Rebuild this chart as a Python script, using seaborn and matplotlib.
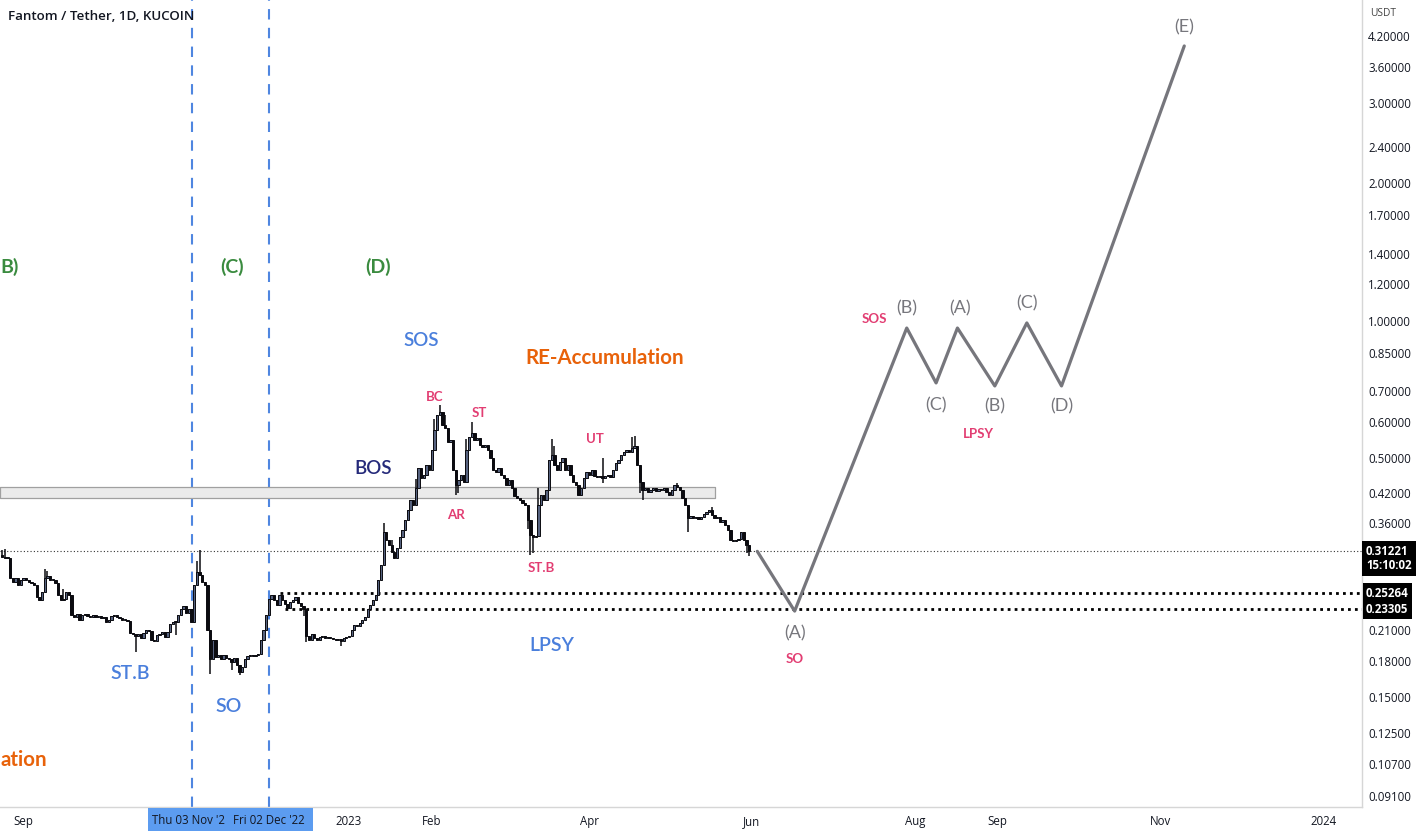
import numpy as np
import pandas as pd
import matplotlib
matplotlib.use("Agg")
import matplotlib.pyplot as plt
import matplotlib.dates as mdates
import matplotlib.transforms as mtransforms
from matplotlib.patches import Rectangle
from matplotlib.ticker import NullLocator
import seaborn as sns

# ---------------- data ----------------
candle_start = "2022-08-24"
first_open = 0.306
closes = [
    0.304, 0.302, 0.302, 0.273, 0.268, 0.273, 0.264, 0.270, 0.273, 0.270,
    0.268, 0.266, 0.264, 0.248, 0.244, 0.254, 0.273, 0.276, 0.270, 0.270,
    0.266, 0.251, 0.244, 0.246, 0.254, 0.251, 0.227, 0.224, 0.228, 0.221,
    0.226, 0.228, 0.225, 0.224, 0.226, 0.224, 0.225, 0.223, 0.224, 0.219,
    0.221, 0.225, 0.227, 0.224, 0.223, 0.221, 0.221, 0.220, 0.207, 0.206,
    0.204, 0.206, 0.202, 0.207, 0.210, 0.209, 0.200, 0.199, 0.205, 0.206,
    0.208, 0.203, 0.208, 0.216, 0.219, 0.219, 0.227, 0.233, 0.237, 0.229,
    0.234, 0.219, 0.264, 0.281, 0.277, 0.268, 0.264, 0.210, 0.181, 0.200,
    0.183, 0.185, 0.181, 0.185, 0.182, 0.181, 0.179, 0.182, 0.176, 0.170,
    0.174, 0.181, 0.184, 0.185, 0.184, 0.185, 0.186, 0.200, 0.210, 0.227,
    0.246, 0.251, 0.244, 0.238, 0.251, 0.244, 0.240, 0.235, 0.242, 0.244,
    0.248, 0.241, 0.237, 0.233, 0.204, 0.200, 0.206, 0.202, 0.200, 0.203,
    0.204, 0.202, 0.203, 0.202, 0.201, 0.200, 0.201, 0.199, 0.202, 0.203,
    0.204, 0.210, 0.215, 0.214, 0.217, 0.221, 0.224, 0.233, 0.238, 0.244,
    0.251, 0.270, 0.292, 0.344, 0.331, 0.323, 0.311, 0.302, 0.318, 0.336,
    0.348, 0.366, 0.385, 0.405, 0.395, 0.430, 0.475, 0.452, 0.459, 0.483,
    0.471, 0.520, 0.576, 0.621, 0.631, 0.590, 0.581, 0.542, 0.547, 0.471,
    0.436, 0.447, 0.459, 0.443, 0.520, 0.556, 0.567, 0.547, 0.553, 0.534,
    0.528, 0.534, 0.520, 0.500, 0.471, 0.466, 0.475, 0.459, 0.452, 0.436,
    0.447, 0.430, 0.413, 0.409, 0.405, 0.399, 0.395, 0.366, 0.339, 0.336,
    0.338, 0.395, 0.415, 0.405, 0.425, 0.495, 0.507, 0.483, 0.471, 0.490,
    0.500, 0.471, 0.483, 0.459, 0.443, 0.436, 0.415, 0.430, 0.452, 0.466,
    0.459, 0.471, 0.457, 0.454, 0.457, 0.452, 0.457, 0.459, 0.454, 0.471,
    0.488, 0.495, 0.507, 0.515, 0.520, 0.515, 0.526, 0.531, 0.483, 0.443,
    0.425, 0.430, 0.421, 0.425, 0.430, 0.423, 0.428, 0.425, 0.430, 0.421,
    0.415, 0.425, 0.436, 0.432, 0.425, 0.409, 0.395, 0.369, 0.373, 0.369,
    0.371, 0.368, 0.371, 0.377, 0.381, 0.385, 0.375, 0.369, 0.371, 0.362,
    0.366, 0.357, 0.348, 0.331, 0.329, 0.331, 0.333, 0.344, 0.331, 0.323,
    0.3122,
]
wick_high = {0: 0.315, 1: 0.316, 16: 0.285, 17: 0.283, 23: 0.258, 73: 0.298,
             74: 0.314, 143: 0.360, 146: 0.330, 155: 0.450, 162: 0.610,
             164: 0.653, 166: 0.620, 174: 0.550, 176: 0.600, 184: 0.490,
             201: 0.430, 206: 0.550, 207: 0.530, 225: 0.500, 236: 0.555,
             237: 0.560, 253: 0.440, 266: 0.390, 277: 0.345}
wick_low = {50: 0.188, 65: 0.205, 78: 0.168, 86: 0.172, 89: 0.167, 98: 0.200,
            113: 0.225, 114: 0.198, 127: 0.194, 170: 0.415, 171: 0.420,
            197: 0.350, 198: 0.307, 199: 0.310, 225: 0.440, 239: 0.420,
            240: 0.405, 257: 0.345, 279: 0.310, 280: 0.305}

current_price = 0.31221
current_time = "15:10:02"
level_high = 0.25264
level_low = 0.23305
zone_bottom, zone_top = 0.409, 0.432
zone_end = "2023-05-18"

proj_dates = ["2023-06-03", "2023-06-17", "2023-07-29", "2023-08-09", "2023-08-17",
              "2023-08-31", "2023-09-12", "2023-09-25", "2023-11-10"]
proj_prices = [0.3122, 0.231, 0.963, 0.730, 0.963, 0.719, 0.988, 0.719, 3.994]

vlines_dates = ["2022-11-03", "2022-12-02"]

ytick_values = [4.2, 3.6, 3.0, 2.4, 2.0, 1.7, 1.4, 1.2, 1.0, 0.85, 0.70, 0.60,
                0.50, 0.42, 0.36, 0.21, 0.18, 0.15, 0.125, 0.107, 0.091]
xtick_dates = ["2022-09-01", "2023-01-01", "2023-02-01", "2023-04-01", "2023-06-01",
               "2023-08-01", "2023-09-01", "2023-11-01", "2024-01-01"]
xtick_labels = ["Sep", "2023", "Feb", "Apr", "Jun", "Aug", "Sep", "Nov", "2024"]

# labels: (text, date, price, color, size, weight, ha)
GREEN = "#3a8b3f"
BLUE = "#4a7fdc"
PINK = "#e23d72"
ORANGE = "#e8620a"
GRAY = "#77777d"
NAVY = "#252a7a"
annotations = [
    ("B)", "2022-08-23 06:00", 1.31, GREEN, 14, "bold", "left"),
    ("(C)", "2022-11-18", 1.31, GREEN, 14, "bold", "center"),
    ("(D)", "2023-01-12", 1.31, GREEN, 14, "bold", "center"),
    ("SOS", "2023-01-28", 0.902, BLUE, 13.5, "semibold", "center"),
    ("RE-Accumulation", "2023-04-07", 0.828, ORANGE, 14.8, "bold", "center"),
    ("BC", "2023-02-02", 0.681, PINK, 9.5, "bold", "center"),
    ("ST", "2023-02-19", 0.628, PINK, 9.5, "bold", "center"),
    ("UT", "2023-04-03", 0.551, PINK, 9.5, "bold", "center"),
    ("AR", "2023-02-10", 0.375, PINK, 9.5, "bold", "center"),
    ("ST.B", "2023-03-14", 0.287, PINK, 9.5, "bold", "center"),
    ("BOS", "2023-01-10", 0.473, NAVY, 13.5, "semibold", "center"),
    ("ST.B", "2022-10-11", 0.169, BLUE, 14, "semibold", "center"),
    ("SO", "2022-11-17", 0.1425, BLUE, 14, "semibold", "center"),
    ("LPSY", "2023-03-18", 0.1938, BLUE, 14, "semibold", "center"),
    ("ation", "2022-08-23 06:00", 0.109, ORANGE, 14.8, "bold", "left"),
    ("(A)", "2023-06-17", 0.206, GRAY, 13, "normal", "center"),
    ("SO", "2023-06-17", 0.1815, PINK, 9.5, "bold", "center"),
    ("SOS", "2023-07-17", 1.008, PINK, 9.5, "bold", "center"),
    ("(B)", "2023-07-29", 1.065, GRAY, 13, "normal", "center"),
    ("(A)", "2023-08-18", 1.065, GRAY, 13, "normal", "center"),
    ("(C)", "2023-09-12", 1.093, GRAY, 13, "normal", "center"),
    ("(C)", "2023-08-09", 0.653, GRAY, 13, "normal", "center"),
    ("(B)", "2023-08-31", 0.647, GRAY, 13, "normal", "center"),
    ("(D)", "2023-09-25", 0.647, GRAY, 13, "normal", "center"),
    ("LPSY", "2023-08-25", 0.564, PINK, 9.5, "bold", "center"),
    ("(E)", "2023-11-10", 4.39, GRAY, 13, "normal", "center"),
]

# ---------------- style ----------------
sns.set_theme(style="white")
plt.rcParams["font.family"] = ["Open Sans", "DejaVu Sans"]
LABEL_FONT = ["Lato", "DejaVu Sans"]

W, H = 1424, 835
fig = plt.figure(figsize=(W / 100, H / 100), dpi=100)
fig.patch.set_facecolor("white")
ax = fig.add_axes([0, 1 - 807 / H, 1362 / W, 807 / H])
ax.set_facecolor("white")
ax.set_yscale("log")

# ---------------- candles ----------------
dates = pd.date_range(candle_start, periods=len(closes), freq="D")
xnum = mdates.date2num(dates)
opens = [first_open] + closes[:-1]
bodies_lo, bodies_h, highs, lows, fills = [], [], [], [], []
for i, (o, c) in enumerate(zip(opens, closes)):
    lo, hi = min(o, c), max(o, c)
    bodies_lo.append(lo)
    bodies_h.append(max(hi - lo, lo * 0.004))
    highs.append(max(hi, wick_high.get(i, hi)))
    lows.append(min(lo, wick_low.get(i, lo)))
    fills.append("#56627f" if c >= o else "#0b0b10")
ax.vlines(xnum, lows, highs, color="#0b0b10", lw=1.1, zorder=3)
ax.bar(xnum, bodies_h, bottom=bodies_lo, width=0.85, color=fills,
       edgecolor="#0b0b10", linewidth=0.7, zorder=4)

# ---------------- zone / levels ----------------
xl = mdates.date2num(pd.Timestamp("2023-01-01")) - 130.78
xr = mdates.date2num(pd.Timestamp("2024-01-01")) + 14.6
ax.fill_between([xl, mdates.date2num(pd.Timestamp(zone_end))], zone_bottom, zone_top,
                facecolor="#ebebeb", edgecolor="#a0a0a0", linewidth=0.9, zorder=2)
ax.axhline(current_price, color="#333333", lw=0.8, ls=(0, (1, 2)), zorder=1)
ax.hlines(level_high, mdates.date2num(pd.Timestamp("2022-12-06")), xr,
          color="black", lw=2, ls=(0, (1, 1.5)), zorder=1)
ax.hlines(level_low, mdates.date2num(pd.Timestamp("2022-12-08")), xr,
          color="black", lw=2, ls=(0, (1, 1.5)), zorder=1)
for d in vlines_dates:
    ax.axvline(mdates.date2num(pd.Timestamp(d)), color="#4f86e0", lw=1.5,
               ls=(0, (5, 4)), zorder=1)

# ---------------- projection path ----------------
proj = pd.DataFrame({"x": mdates.date2num(pd.to_datetime(proj_dates)),
                     "price": proj_prices})
sns.lineplot(data=proj, x="x", y="price", sort=False, estimator=None,
             color="#76767c", lw=2.3, ax=ax, zorder=5)

# ---------------- annotations ----------------
for txt, d, p, col, sz, wt, ha in annotations:
    ax.text(mdates.date2num(pd.Timestamp(d)), p, txt, color=col, fontsize=sz,
            fontweight=wt, ha=ha, va="center", family=LABEL_FONT, zorder=6)

# ---------------- axes ----------------
ax.set_xlim(xl, xr)
ax.set_ylim(0.0860, 5.036)
ax.set_xlabel("")
ax.set_ylabel("")
ax.yaxis.tick_right()
ax.set_yticks(ytick_values, [f"{v:.5f}" for v in ytick_values])
ax.yaxis.set_minor_locator(NullLocator())
ax.set_xticks(mdates.date2num(pd.to_datetime(xtick_dates)), xtick_labels)
ax.tick_params(axis="x", length=0, pad=6, labelsize=8.3, labelcolor="#131722")
ax.tick_params(axis="y", length=0, pad=4.5, labelsize=8.3, labelcolor="#131722")
for s in ["top", "left"]:
    ax.spines[s].set_visible(False)
for s in ["right", "bottom"]:
    ax.spines[s].set_color("#d6d6d6")
    ax.spines[s].set_linewidth(1)
ax.grid(False)

# crosshair date labels on x axis
bt = mtransforms.blended_transform_factory(ax.transData, ax.transAxes)
bx0 = mdates.date2num(pd.Timestamp("2022-10-17 14:00"))
bx1 = mdates.date2num(pd.Timestamp("2022-12-18 12:00"))
ax.add_patch(Rectangle((bx0, -0.0297), bx1 - bx0, 0.0285, transform=bt,
                       facecolor="#5c9cf0", edgecolor="none", clip_on=False, zorder=7))
ax.text(mdates.date2num(pd.Timestamp("2022-10-19")), -0.0165, "Thu 03 Nov '2",
        transform=bt, ha="left", va="center", fontsize=8.3, color="#131722", zorder=8)
ax.text(mdates.date2num(pd.Timestamp("2022-12-02")), -0.0165, "Fri 02 Dec '22",
        transform=bt, ha="center", va="center", fontsize=8.3, color="#131722", zorder=8)

# price labels on the right axis
ry = mtransforms.blended_transform_factory(ax.transAxes, ax.transData)
ax.text(1.0, current_price, f"{current_price:.5f}\n{current_time}",
        transform=mtransforms.offset_copy(ry, fig=fig, x=4, y=-7, units="dots"),
        ha="left", va="center", fontsize=8.3, fontweight="bold", color="white",
        linespacing=1.05,
        bbox=dict(boxstyle="square,pad=0.35", facecolor="black", edgecolor="none"),
        zorder=9, clip_on=False)
for lv in (level_high, level_low):
    ax.text(1.0, lv, f"{lv:.5f}",
            transform=mtransforms.offset_copy(ry, fig=fig, x=4, y=0, units="dots"),
            ha="left", va="center", fontsize=8.3, fontweight="bold", color="white",
            bbox=dict(boxstyle="square,pad=0.3", facecolor="black", edgecolor="none"),
            zorder=9, clip_on=False)

# title and currency
fig.text(8 / W, 1 - 16 / H, "Fantom / Tether, 1D, KUCOIN", ha="left", va="center",
         fontsize=9.6, fontweight="semibold", color="#131722")
fig.text(1370 / W, 1 - 13 / H, "USDT", ha="left", va="center", fontsize=7.3,
         color="#444444")

fig.savefig("out.png", dpi=100, facecolor="white")
